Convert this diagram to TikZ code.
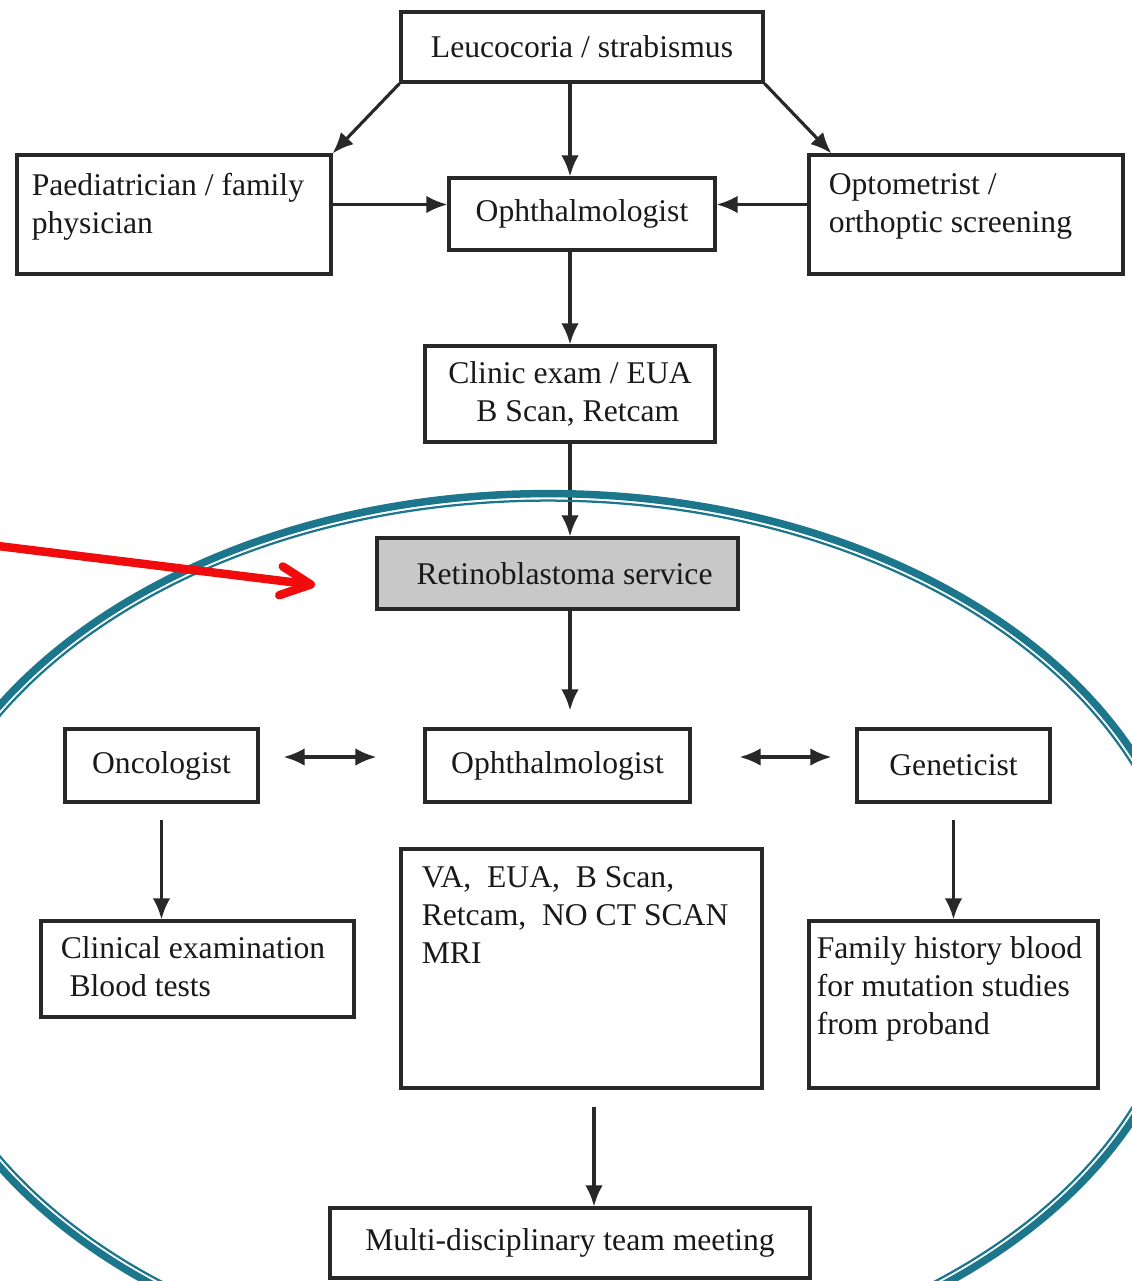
\documentclass[tikz,border=0pt]{standalone}
\usepackage{fontspec}
\setmainfont{Liberation Serif}
\usetikzlibrary{arrows.meta, positioning}
\definecolor{boxline}{RGB}{40,40,40}
\definecolor{boxink}{RGB}{25,25,25}
\definecolor{servicegray}{RGB}{200,200,200}
\definecolor{ringteal}{RGB}{29,119,140}
\definecolor{pointerred}{RGB}{240,12,12}
\tikzset{
    rbbox/.style={rectangle, draw=boxline, line width=1.8pt, align=center, inner sep=0pt, text=boxink, font=\fontsize{18pt}{21.6pt}\selectfont},
    rbtext/.style={anchor=north west, align=left, inner sep=0pt, text=boxink, font=\fontsize{18pt}{21.6pt}\selectfont},
    rbarrow/.style={-{Latex[length=12pt, width=10pt]}, line width=1.8pt, draw=boxline},
    rbdarrow/.style={{Latex[length=12pt, width=10pt]}-{Latex[length=12pt, width=10pt]}, line width=1.8pt, draw=boxline},
    rbring/.style={draw=ringteal, line width=#1},
    rbpointer/.style={-{Straight Barb[length=0.6cm, width=0.58cm, round]}, draw=pointerred, line width=0.17cm, line cap=round}
}

\begin{document}
\begin{tikzpicture}[x=0.02cm, y=-0.02cm]
\useasboundingbox (0,0) rectangle (1132,1281);
\clip (0,0) rectangle (1132,1281);

% referral
\node[rbbox, minimum width=7.24cm, minimum height=1.40cm] (leuco) at (582,47) {Leucocoria / strabismus};
\node[rbbox, minimum width=6.28cm, minimum height=2.38cm] (paed) at (174,214.5) {};
\node[rbtext] (paedtext) at ([shift={(16,19)}]paed.north west) {Paediatrician / family\\physician};
\node[rbbox, minimum width=5.32cm, minimum height=1.44cm] (oph) at (582,214) {Ophthalmologist};
\node[rbbox, minimum width=6.28cm, minimum height=2.38cm] (opto) at (966,214.5) {};
\node[rbtext] (optotext) at ([shift={(21,20)}]opto.north west) {Optometrist /\\orthoptic screening};
\node[rbbox, minimum width=5.80cm, minimum height=1.92cm] (clinic) at (570,394) {Clinic exam / EUA\\\hspace*{9pt}B Scan, Retcam};

% service
\node[rbbox, fill=servicegray, minimum width=7.22cm, minimum height=1.42cm] (retino) at (557.5,573.5) {\hspace*{8pt}Retinoblastoma service};
\node[rbbox, minimum width=3.86cm, minimum height=1.46cm] (onco) at (161.5,765.5) {Oncologist};
\node[rbbox, minimum width=5.30cm, minimum height=1.46cm] (oph2) at (557.5,765.5) {Ophthalmologist};
\node[rbbox, minimum width=3.86cm, minimum height=1.46cm] (gene) at (953.5,765.5) {Geneticist};
\node[rbbox, minimum width=6.26cm, minimum height=1.92cm] (clin) at (197.5,969) {};
\node[rbtext] (clintext) at ([shift={(21,17)}]clin.north west) {Clinical examination\\\hspace*{5pt}Blood tests};
\node[rbbox, minimum width=7.22cm, minimum height=4.78cm] (va) at (581.5,968.5) {};
\node[rbtext] (vatext) at ([shift={(22,19)}]va.north west) {VA,\ \ EUA,\ \ B Scan,\\Retcam,\ \ NO CT SCAN\\MRI};
\node[rbbox, minimum width=5.78cm, minimum height=3.34cm] (fam) at (953.5,1004.5) {};
\node[rbtext] (famtext) at ([shift={(9,17)}]fam.north west) {Family history blood\\for mutation studies\\from proband};
\node[rbbox, minimum width=9.60cm, minimum height=1.40cm] (mdt) at (570,1243) {Multi-disciplinary team meeting};

\draw[rbarrow] (leuco.south west) -- (paed.north east);
\draw[rbarrow] (leuco.south -| clinic.north) -- (oph.north -| clinic.north);
\draw[rbarrow] (leuco.south east) -- ([xshift=0.48cm]opto.north west);
\draw[rbarrow] ([yshift=0.2cm]paed.east) -- ([yshift=0.2cm]paed.east -| oph.west);
\draw[rbarrow] ([yshift=0.2cm]opto.west) -- ([yshift=0.2cm]opto.west -| oph.east);
\draw[rbarrow] (oph.south -| clinic.north) -- (clinic.north);
\draw[rbarrow] (clinic.south) -- (clinic.south |- retino.north);
\draw[rbarrow, shorten >=0.34cm] (retino.south -| clinic.south) -- (oph2.north -| clinic.south);
\draw[rbdarrow, shorten <=0.48cm, shorten >=0.94cm] ([yshift=0.17cm]onco.east) -- ([yshift=0.17cm]onco.east -| oph2.west);
\draw[rbdarrow, shorten <=0.96cm, shorten >=0.48cm] ([yshift=0.17cm]oph2.east) -- ([yshift=0.17cm]oph2.east -| gene.west);
\draw[rbarrow, shorten <=0.32cm] (onco.south) -- (onco.south |- clin.north);
\draw[rbarrow, shorten <=0.32cm] (gene.south) -- (gene.south |- fam.north);
\draw[rbarrow, shorten <=0.34cm] ([xshift=0.25cm]va.south) -- ([xshift=0.25cm]va.south |- mdt.north);

% highlight ring and pointer
\coordinate (ringcentre) at (548,936);
\draw[rbring=0.15cm] (ringcentre) ellipse [x radius=12.85cm, y radius=8.85cm];
\draw[rbring=0.045cm] (ringcentre) ellipse [x radius=12.71cm, y radius=8.71cm];
\coordinate (pointerstart) at (-10,545);
\coordinate (pointertip) at (315,585);
\draw[rbpointer] (pointerstart) -- (pointertip);

\end{tikzpicture}
\end{document}
